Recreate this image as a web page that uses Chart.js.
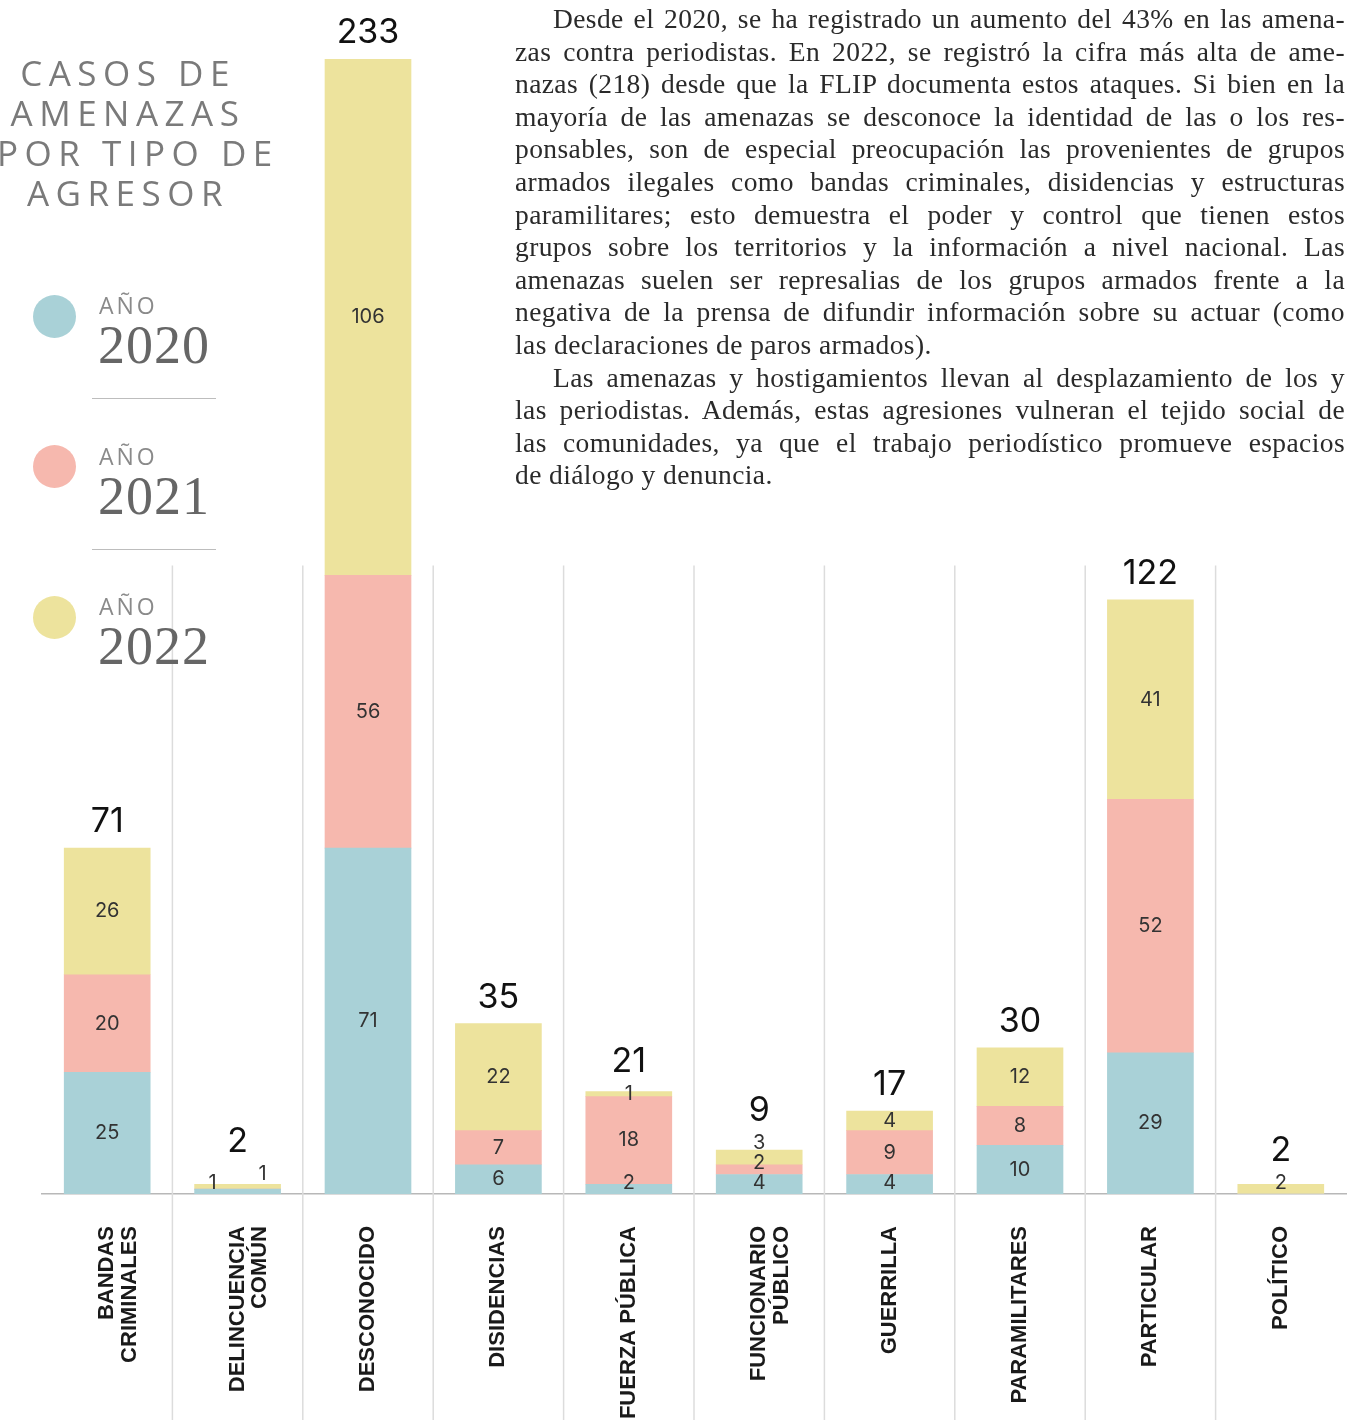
<!DOCTYPE html>
<html><head><meta charset="utf-8">
<script src="https://cdn.jsdelivr.net/npm/chart.js@4.4.0/dist/chart.umd.min.js"></script>
<style>
html,body{margin:0;padding:0;background:#fff;width:1366px;height:1420px;overflow:hidden;}
#wrap{position:relative;width:1366px;height:1420px;}
#c{position:absolute;left:0;top:0;}
.title{position:absolute;left:-3px;top:53px;width:262px;text-align:center;font-family:"Open Sans",sans-serif;font-weight:400;font-size:35px;line-height:40px;letter-spacing:6.5px;color:#7a7a7a;white-space:nowrap;}
.dot{position:absolute;left:33px;width:43px;height:43px;border-radius:50%;}
.ano{position:absolute;left:99px;font-family:"Open Sans",sans-serif;font-size:23px;letter-spacing:3px;color:#8a8a8a;line-height:1;}
.yr{position:absolute;left:98px;font-family:"Liberation Serif",serif;font-size:54px;color:#666;line-height:1;letter-spacing:1px;}
.sep{position:absolute;left:92px;width:124px;height:0;border-top:1.5px solid #bdbdbd;}
.txt{position:absolute;left:515px;top:3px;width:830px;font-family:"Liberation Serif",serif;font-size:27.5px;line-height:32.6px;color:#2a2a2a;letter-spacing:0.4px;}
.txt div{text-align:justify;text-align-last:justify;white-space:nowrap;height:32.6px;}
.txt div.ind{padding-left:38px;}
.txt div.last{text-align-last:left;}
</style></head>
<body><div id="wrap">
<canvas id="c" width="1366" height="1420"></canvas>
<div class="title">CASOS DE<br>AMENAZAS<br>POR TIPO DE<br>AGRESOR</div>
<div id="legend"></div>
<div class="txt">
<div class="ind">Desde el 2020, se ha registrado un aumento del 43% en las amena-</div>
<div>zas contra periodistas. En 2022, se registró la cifra más alta de ame-</div>
<div>nazas (218) desde que la FLIP documenta estos ataques. Si bien en la</div>
<div>mayoría de las amenazas se desconoce la identidad de las o los res-</div>
<div>ponsables, son de especial preocupación las provenientes de grupos</div>
<div>armados ilegales como bandas criminales, disidencias y estructuras</div>
<div>paramilitares; esto demuestra el poder y control que tienen estos</div>
<div>grupos sobre los territorios y la información a nivel nacional. Las</div>
<div>amenazas suelen ser represalias de los grupos armados frente a la</div>
<div>negativa de la prensa de difundir información sobre su actuar (como</div>
<div class="last">las declaraciones de paros armados).</div>
<div class="ind">Las amenazas y hostigamientos llevan al desplazamiento de los y</div>
<div>las periodistas. Además, estas agresiones vulneran el tejido social de</div>
<div>las comunidades, ya que el trabajo periodístico promueve espacios</div>
<div class="last">de diálogo y denuncia.</div>
</div>
</div>
<script>
const categories = [["BANDAS","CRIMINALES"],["DELINCUENCIA","COMÚN"],"DESCONOCIDO","DISIDENCIAS","FUERZA PÚBLICA",["FUNCIONARIO","PÚBLICO"],"GUERRILLA","PARAMILITARES","PARTICULAR","POLÍTICO"];
const years = ["2020","2021","2022"];
const values2020 = [25,1,71,6,2,4,4,10,29,0];
const values2021 = [20,0,56,7,18,2,9,8,52,0];
const values2022 = [26,1,106,22,1,3,4,12,41,2];
const colors = ["#a9d1d7","#f6b8ae","#ede39d"];

const series = [values2020, values2021, values2022];
const totals = categories.map((_, i) => series.reduce((s, arr) => s + arr[i], 0));

// keep justified lines inside the column
document.querySelectorAll('.txt div').forEach(d => {
  let ls = 0.4;
  while (d.scrollWidth > d.clientWidth + 0.5 && ls > -1) {
    ls -= 0.1;
    d.style.letterSpacing = ls + 'px';
  }
});

const gridPlugin = {
  id: 'colGrid',
  beforeDatasetsDraw(chart) {
    const ctx = chart.ctx, xs = chart.scales.x, ys = chart.scales.y;
    const n = chart.data.labels.length;
    const topY = ys.getPixelForValue(129);
    ctx.save();
    ctx.strokeStyle = '#dcdcdc';
    ctx.lineWidth = 1.5;
    for (let i = 0; i < n - 1; i++) {
      const x = (xs.getPixelForTick(i) + xs.getPixelForTick(i + 1)) / 2;
      ctx.beginPath();
      ctx.moveTo(x, topY);
      ctx.lineTo(x, chart.height);
      ctx.stroke();
    }
    ctx.restore();
  }
};

const labelPlugin = {
  id: 'segLabels',
  afterDatasetsDraw(chart) {
    const ctx = chart.ctx;
    const n = chart.data.labels.length;
    const bottom = chart.chartArea.bottom;
    ctx.save();
    for (let i = 0; i < n; i++) {
      const placed = [];
      let topY = Infinity, xC = null;
      chart.data.datasets.forEach((ds, d) => {
        const el = chart.getDatasetMeta(d).data[i];
        xC = el.x;
        const v = ds.data[i];
        if (!v) return;
        topY = Math.min(topY, el.y);
        let y = (el.y + el.base) / 2;
        y = Math.min(y, bottom - 11);
        placed.push({ v, y, oy: y, x: el.x });
      });
      for (let k = 1; k < placed.length; k++) {
        const odiff = placed[k - 1].oy - placed[k].oy;
        if (odiff < 8) {
          placed[k - 1].x -= 25; placed[k].x += 25; placed[k].y -= 9;
        } else if (placed[k - 1].y - placed[k].y < 20) {
          placed[k].y = placed[k - 1].y - 20;
        }
      }
      ctx.font = '400 20px Inter, sans-serif';
      ctx.fillStyle = '#333';
      ctx.textAlign = 'center';
      ctx.textBaseline = 'middle';
      let minLabelY = Infinity;
      placed.forEach(p => { ctx.fillText(String(p.v), p.x, p.y); minLabelY = Math.min(minLabelY, p.y); });
      ctx.font = '400 34px Inter, sans-serif';
      ctx.fillStyle = '#111';
      ctx.textBaseline = 'alphabetic';
      ctx.fillText(String(totals[i]), xC, Math.min(topY - 16, minLabelY - 22));
    }
    ctx.restore();
  }
};

const chart = new Chart(document.getElementById('c'), {
  type: 'bar',
  data: {
    labels: categories,
    datasets: years.map((y, k) => ({
      label: y,
      data: series[k],
      backgroundColor: colors[k],
      borderWidth: 0,
      barThickness: 86
    }))
  },
  options: {
    responsive: false,
    animation: false,
    layout: { padding: { top: 59, left: 42, right: 20, bottom: 0 } },
    plugins: { legend: { display: false }, tooltip: { enabled: false } },
    scales: {
      x: {
        stacked: true,
        grid: { display: false, drawTicks: false },
        border: { display: true, color: '#b8b8b8', width: 1.5 },
        ticks: {
          maxRotation: 90, minRotation: 90, padding: 32, color: '#1a1a1a',
          font: { family: 'Liberation Sans', weight: 'bold', size: 22, lineHeight: 1.02 }
        },
        afterFit(s) { s.height = 226; }
      },
      y: { stacked: true, display: false, min: 0, max: Math.max(...totals) }
    }
  },
  plugins: [gridPlugin, labelPlugin]
});

// HTML legend built from the chart datasets
const legend = document.getElementById('legend');
chart.data.datasets.forEach((ds, k) => {
  const cy = 316 + k * 150.5;
  const item = document.createElement('div');
  item.innerHTML =
    `<div class="dot" style="top:${cy - 21.5}px;background:${ds.backgroundColor}"></div>` +
    `<div class="ano" style="top:${cy - 22}px">AÑO</div>` +
    `<div class="yr" style="top:${cy + 2}px">${ds.label}</div>`;
  legend.appendChild(item);
  if (k < chart.data.datasets.length - 1) {
    const s = document.createElement('div');
    s.className = 'sep';
    s.style.top = (cy + 82) + 'px';
    legend.appendChild(s);
  }
});
</script>
</body></html>
